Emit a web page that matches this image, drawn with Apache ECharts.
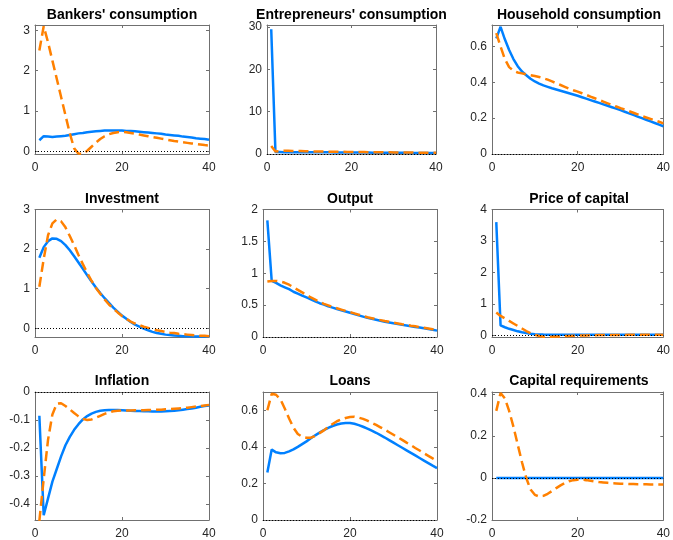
<!DOCTYPE html>
<html><head><meta charset="utf-8">
<script src="https://cdn.jsdelivr.net/npm/echarts@6/dist/echarts.min.js"></script>
<style>html,body{margin:0;padding:0;background:#fff}#c{width:673px;height:540px}</style>
</head><body><div id="c"></div><script>
// ---- data ----
const periods = Array.from({length: 40}, (_, i) => i + 1);
const xTicks = [0, 20, 40];
const titles = ["Bankers' consumption", "Entrepreneurs' consumption", "Household consumption",
  "Investment", "Output", "Price of capital", "Inflation", "Loans", "Capital requirements"];

const bankersBlue = [0.28,0.38,0.37,0.36,0.37,0.38,0.39,0.41,0.43,0.45,0.46,0.48,0.49,0.50,0.51,0.52,0.52,0.52,0.52,0.52,0.51,0.51,0.50,0.49,0.48,0.47,0.46,0.45,0.44,0.42,0.41,0.40,0.39,0.37,0.36,0.35,0.33,0.32,0.31,0.29];
const bankersOrange = [2.5,3.1,2.7,2.25,1.8,1.35,0.9,0.45,0.08,-0.05,-0.06,0.02,0.12,0.22,0.31,0.38,0.43,0.46,0.48,0.49,0.48,0.46,0.44,0.42,0.40,0.38,0.36,0.34,0.32,0.30,0.28,0.26,0.245,0.23,0.215,0.2,0.19,0.175,0.16,0.15];

const entBlue = [29.5,0.45,0.45,0.44,0.44,0.43,0.43,0.42,0.42,0.41,0.41,0.40,0.40,0.39,0.39,0.38,0.37,0.37,0.36,0.36,0.35,0.34,0.34,0.33,0.32,0.32,0.31,0.30,0.30,0.29,0.28,0.28,0.27,0.26,0.26,0.25,0.24,0.24,0.23,0.22];
const entOrange = [1.9,0.6,0.7,0.75,0.75,0.72,0.7,0.68,0.66,0.64,0.62,0.6,0.58,0.57,0.55,0.54,0.52,0.51,0.5,0.48,0.47,0.46,0.45,0.44,0.43,0.42,0.41,0.4,0.39,0.38,0.37,0.36,0.35,0.34,0.33,0.32,0.31,0.3,0.29,0.28];

const hhBlue = [0.645,0.71,0.64,0.58,0.53,0.49,0.46,0.44,0.42,0.405,0.393,0.383,0.375,0.367,0.36,0.353,0.346,0.339,0.332,0.325,0.317,0.309,0.301,0.293,0.285,0.277,0.269,0.261,0.253,0.245,0.236,0.227,0.218,0.209,0.2,0.191,0.182,0.173,0.164,0.155];
const hhOrange = [0.675,0.6,0.53,0.485,0.465,0.455,0.45,0.445,0.44,0.435,0.43,0.423,0.415,0.405,0.395,0.385,0.375,0.365,0.356,0.348,0.339,0.33,0.32,0.311,0.302,0.292,0.283,0.274,0.265,0.256,0.248,0.239,0.23,0.221,0.212,0.204,0.196,0.188,0.18,0.171];

const invBlue = [1.78,2.05,2.2,2.27,2.26,2.2,2.1,1.97,1.82,1.66,1.5,1.34,1.18,1.03,0.89,0.76,0.64,0.52,0.42,0.32,0.24,0.16,0.09,0.04,-0.01,-0.05,-0.09,-0.12,-0.14,-0.16,-0.17,-0.18,-0.19,-0.2,-0.2,-0.21,-0.21,-0.21,-0.21,-0.21];
const invOrange = [1.05,1.75,2.35,2.65,2.75,2.7,2.55,2.33,2.1,1.85,1.62,1.4,1.2,1.02,0.87,0.73,0.6,0.5,0.4,0.31,0.24,0.17,0.12,0.08,0.04,0.01,-0.02,-0.05,-0.07,-0.09,-0.11,-0.12,-0.14,-0.15,-0.16,-0.17,-0.18,-0.19,-0.19,-0.2];

const outBlue = [1.83,0.88,0.85,0.81,0.78,0.75,0.71,0.68,0.65,0.62,0.59,0.56,0.53,0.51,0.48,0.46,0.44,0.42,0.40,0.38,0.36,0.34,0.32,0.30,0.285,0.27,0.255,0.24,0.228,0.215,0.203,0.19,0.18,0.17,0.158,0.148,0.136,0.125,0.113,0.1];
const outOrange = [0.87,0.88,0.88,0.87,0.85,0.82,0.78,0.74,0.70,0.66,0.62,0.585,0.55,0.52,0.495,0.47,0.45,0.43,0.41,0.39,0.37,0.35,0.33,0.31,0.295,0.28,0.265,0.25,0.238,0.225,0.213,0.2,0.19,0.178,0.167,0.156,0.145,0.134,0.122,0.11];

const priceBlue = [3.6,0.32,0.26,0.21,0.17,0.13,0.1,0.075,0.055,0.04,0.032,0.027,0.024,0.022,0.021,0.02,0.02,0.02,0.02,0.02,0.02,0.02,0.02,0.02,0.02,0.02,0.02,0.02,0.02,0.02,0.02,0.02,0.02,0.02,0.02,0.02,0.02,0.02,0.02,0.02];
const priceOrange = [0.73,0.62,0.54,0.46,0.38,0.3,0.22,0.14,0.07,0.02,-0.02,-0.04,-0.04,-0.04,-0.035,-0.03,-0.02,-0.015,-0.01,-0.005,0,0,0.005,0.005,0.01,0.01,0.01,0.015,0.015,0.015,0.015,0.02,0.02,0.02,0.02,0.02,0.02,0.02,0.02,0.02];

const inflBlue = [-0.085,-0.44,-0.38,-0.32,-0.275,-0.23,-0.19,-0.16,-0.135,-0.115,-0.098,-0.086,-0.077,-0.071,-0.067,-0.065,-0.064,-0.064,-0.064,-0.065,-0.066,-0.067,-0.068,-0.068,-0.069,-0.069,-0.07,-0.07,-0.07,-0.069,-0.068,-0.067,-0.065,-0.063,-0.061,-0.059,-0.056,-0.053,-0.05,-0.048];
const inflOrange = [-0.46,-0.31,-0.17,-0.08,-0.042,-0.04,-0.05,-0.062,-0.075,-0.087,-0.096,-0.1,-0.098,-0.092,-0.085,-0.078,-0.073,-0.069,-0.067,-0.066,-0.066,-0.066,-0.065,-0.065,-0.065,-0.064,-0.064,-0.063,-0.063,-0.062,-0.061,-0.06,-0.059,-0.058,-0.056,-0.054,-0.052,-0.05,-0.048,-0.046];

const loansBlue = [0.26,0.385,0.37,0.365,0.367,0.375,0.386,0.4,0.415,0.43,0.447,0.463,0.478,0.492,0.504,0.514,0.522,0.528,0.531,0.531,0.526,0.519,0.51,0.5,0.489,0.477,0.464,0.451,0.437,0.423,0.409,0.395,0.381,0.367,0.353,0.339,0.325,0.311,0.297,0.284];
const loansOrange = [0.6,0.69,0.685,0.66,0.61,0.555,0.505,0.47,0.455,0.45,0.45,0.46,0.475,0.49,0.51,0.525,0.54,0.55,0.558,0.563,0.565,0.56,0.553,0.543,0.532,0.52,0.507,0.494,0.48,0.466,0.452,0.438,0.423,0.409,0.394,0.38,0.365,0.351,0.337,0.322];

const capBlue = [0,0,0,0,0,0,0,0,0,0,0,0,0,0,0,0,0,0,0,0,0,0,0,0,0,0,0,0,0,0,0,0,0,0,0,0,0,0,0,0];
const capOrange = [0.32,0.405,0.38,0.32,0.245,0.16,0.075,0,-0.055,-0.08,-0.088,-0.085,-0.075,-0.062,-0.048,-0.035,-0.024,-0.015,-0.01,-0.008,-0.008,-0.01,-0.013,-0.016,-0.019,-0.021,-0.023,-0.025,-0.026,-0.027,-0.028,-0.029,-0.029,-0.03,-0.03,-0.03,-0.031,-0.031,-0.031,-0.031];

const blueSeries = [bankersBlue, entBlue, hhBlue, invBlue, outBlue, priceBlue, inflBlue, loansBlue, capBlue];
const orangeSeries = [bankersOrange, entOrange, hhOrange, invOrange, outOrange, priceOrange, inflOrange, loansOrange, capOrange];
const yTickLabels = [[0,1,2,3],[0,10,20,30],[0,0.2,0.4,0.6],[0,1,2,3],[0,0.5,1,1.5,2],[0,1,2,3,4],[-0.4,-0.3,-0.2,-0.1,0],[0,0.2,0.4,0.6],[-0.2,0,0.2,0.4]];
const yLimits = [[-0.06,3.13],[0,30.5],[0,0.72],[-0.22,3],[0,2],[-0.05,4],[-0.457,0],[0,0.7],[-0.2,0.41]];

// ---- layout / style ----
const colLeft = [35, 263, 492], colWidth = 174;
const rowTop = [25, 209.5, 392], rowHeight = [129, 127.5, 130], titleTop = [8, 192, 374];
const FONT = "'Liberation Sans', Arial, sans-serif";
const axisColor = '#707070', textColor = '#262626';

const grids = [], xAxes = [], yAxes = [], series = [], titleOpts = [];
for (let i = 0; i < 9; i++) {
  const r = Math.floor(i / 3), c = i % 3;
  let left = colLeft[c], width = colWidth;
  if (i === 1) { left = 267; width = 169; }
  grids.push({left: left, top: rowTop[r], width: width, height: rowHeight[r]});
  titleOpts.push({text: titles[i], left: left + width / 2, top: titleTop[r], textAlign: 'center', padding: 0,
    textStyle: {fontFamily: FONT, fontSize: 14, fontWeight: 'bold', color: '#000'}});
  const line = {show: true, onZero: false, lineStyle: {color: axisColor, width: 1}};
  xAxes.push({type: 'value', gridIndex: i, position: 'bottom', min: 0, max: 40,
    axisLine: line, splitLine: {show: false},
    axisTick: {show: true, inside: true, length: 3, customValues: xTicks, lineStyle: {color: axisColor}},
    axisLabel: {customValues: xTicks, margin: 8, fontFamily: FONT, fontSize: 12, color: textColor}});
  xAxes.push({type: 'value', gridIndex: i, position: 'top', min: 0, max: 40,
    axisLine: line, splitLine: {show: false},
    axisTick: {show: true, inside: true, length: 3, customValues: xTicks, lineStyle: {color: axisColor}},
    axisLabel: {show: false}});
  const [ymin, ymax] = yLimits[i];
  yAxes.push({type: 'value', gridIndex: i, position: 'left', min: ymin, max: ymax,
    axisLine: line, splitLine: {show: false},
    axisTick: {show: true, inside: true, length: 3, customValues: yTickLabels[i], lineStyle: {color: axisColor}},
    axisLabel: {customValues: yTickLabels[i], margin: 5, fontFamily: FONT, fontSize: 12, color: textColor}});
  yAxes.push({type: 'value', gridIndex: i, position: 'right', min: ymin, max: ymax,
    axisLine: line, splitLine: {show: false},
    axisTick: {show: true, inside: true, length: 3, customValues: yTickLabels[i], lineStyle: {color: axisColor}},
    axisLabel: {show: false}});
  series.push({type: 'line', xAxisIndex: 2 * i, yAxisIndex: 2 * i, showSymbol: false, symbol: 'none',
    data: periods.map((p, k) => [p, blueSeries[i][k]]),
    lineStyle: {color: '#0080ff', width: 2.5}, z: 2});
  series.push({type: 'line', xAxisIndex: 2 * i, yAxisIndex: 2 * i, showSymbol: false, symbol: 'none',
    data: periods.map((p, k) => [p, orangeSeries[i][k]]),
    lineStyle: {color: '#ff8000', width: 2.5, type: [10, 5]}, z: 3,
    markLine: {silent: true, symbol: 'none', label: {show: false},
      lineStyle: {color: '#000', width: 1, type: [1, 2]}, data: [{yAxis: 0}]}});
}

const chart = echarts.init(document.getElementById('c'), null, {renderer: 'canvas'});
chart.setOption({animation: false, backgroundColor: '#fff', title: titleOpts,
  grid: grids, xAxis: xAxes, yAxis: yAxes, series: series});
</script></body></html>
